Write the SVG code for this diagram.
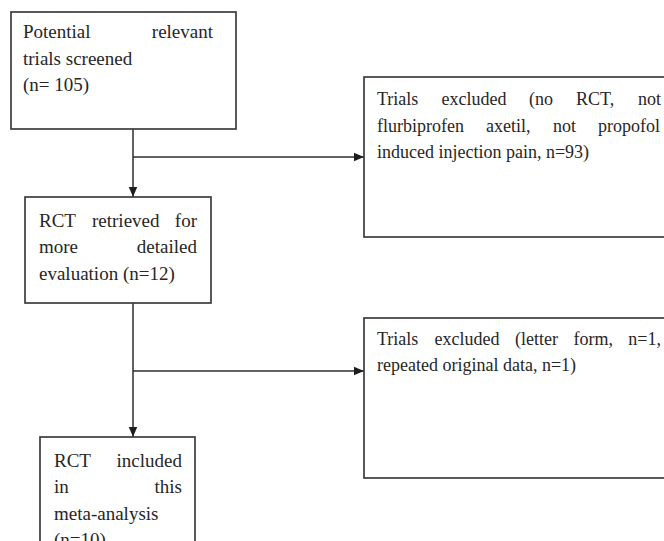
<svg xmlns="http://www.w3.org/2000/svg" width="664" height="541" viewBox="0 0 664 541">
<defs>
<style>
.box{fill:#fff;stroke:#3c3c3c;stroke-width:1.7}
.ln{fill:none;stroke:#2e2e2e;stroke-width:1.5}
.tl{font-family:"Liberation Serif","Times New Roman",serif;font-size:19px;fill:#262626}
.tr{font-family:"Liberation Serif","Times New Roman",serif;font-size:18px;fill:#262626}
.e{text-anchor:end}
</style>
<marker id="ah" markerUnits="userSpaceOnUse" markerWidth="12" markerHeight="10" refX="10" refY="5" orient="auto">
<path d="M0,0.8 L10,5 L0,9.2 Z" fill="#1e1e1e"/>
</marker>
</defs>
<rect width="664" height="541" fill="#fff"/>
<g id="connectors">
<line class="ln" x1="133" y1="129" x2="133" y2="197" marker-end="url(#ah)"/>
<line class="ln" x1="133" y1="157" x2="364" y2="157" marker-end="url(#ah)"/>
<line class="ln" x1="133" y1="303" x2="133" y2="437" marker-end="url(#ah)"/>
<line class="ln" x1="133" y1="371" x2="364" y2="371" marker-end="url(#ah)"/>
</g>
<g id="screened">
<rect class="box" x="11" y="12" width="225" height="117"/>
<text class="tl" x="23" y="38">Potential</text>
<text class="tl e" x="213" y="38">relevant</text>
<text class="tl" x="23" y="65">trials screened</text>
<text class="tl" x="23" y="91">(n= 105)</text>
</g>
<g id="excluded1">
<rect class="box" x="364" y="77" width="320" height="160"/>
<text class="tr" x="377" y="105">Trials</text>
<text class="tr" x="441.6" y="105">excluded</text>
<text class="tr" x="529" y="105">(no</text>
<text class="tr" x="576" y="105">RCT,</text>
<text class="tr e" x="661" y="105">not</text>
<text class="tr" x="377" y="131.5">flurbiprofen</text>
<text class="tr" x="486" y="131.5">axetil,</text>
<text class="tr" x="553" y="131.5">not</text>
<text class="tr e" x="660" y="131.5">propofol</text>
<text class="tr" x="377" y="158">induced injection pain, n=93)</text>
</g>
<g id="retrieved">
<rect class="box" x="25" y="197" width="186" height="106"/>
<text class="tl" x="39" y="227">RCT</text>
<text class="tl" x="92" y="227">retrieved</text>
<text class="tl e" x="197" y="227">for</text>
<text class="tl" x="39" y="253">more</text>
<text class="tl e" x="197" y="253">detailed</text>
<text class="tl" x="39" y="280">evaluation (n=12)</text>
</g>
<g id="excluded2">
<rect class="box" x="364" y="318" width="320" height="160"/>
<text class="tr" x="377" y="345">Trials</text>
<text class="tr" x="434.5" y="345">excluded</text>
<text class="tr" x="515" y="345">(letter</text>
<text class="tr" x="573.4" y="345">form,</text>
<text class="tr e" x="661" y="345">n=1,</text>
<text class="tr" x="377" y="371">repeated original data, n=1)</text>
</g>
<g id="included">
<rect class="box" x="40" y="437" width="155" height="130"/>
<text class="tl" x="54" y="467">RCT</text>
<text class="tl e" x="182" y="467">included</text>
<text class="tl" x="54" y="493">in</text>
<text class="tl e" x="182" y="493">this</text>
<text class="tl" x="54" y="520">meta-analysis</text>
<text class="tl" x="54" y="546">(n=10)</text>
</g>
</svg>
